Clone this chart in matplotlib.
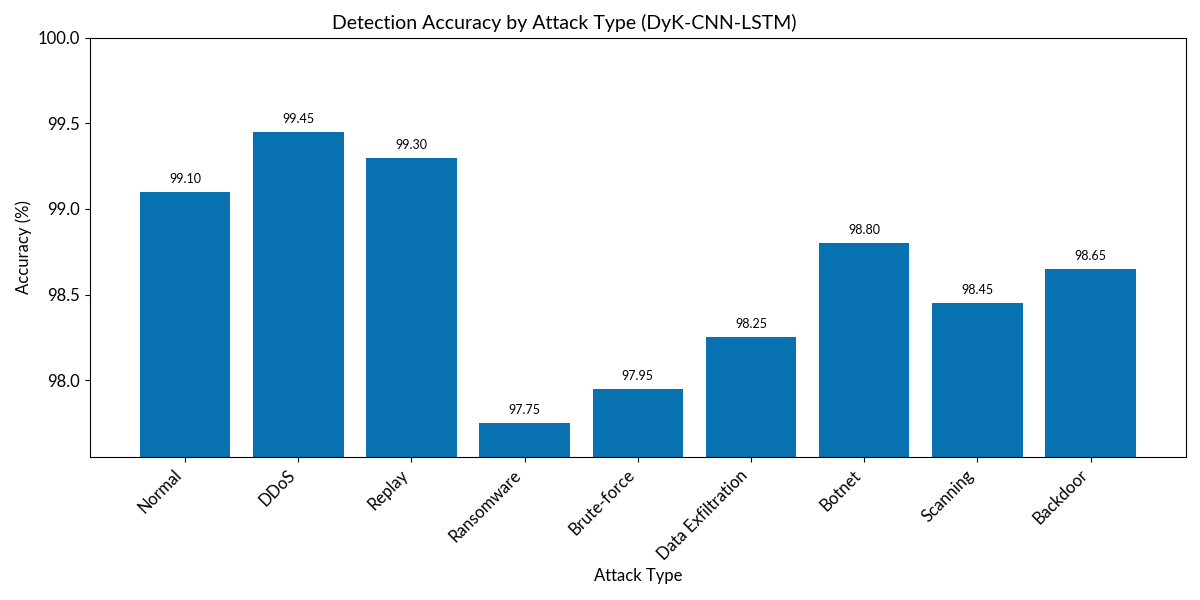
import matplotlib
matplotlib.use("Agg")
import matplotlib.pyplot as plt

plt.rcParams['font.family'] = ['Lato', 'DejaVu Sans']

attack_types = ['Normal', 'DDoS', 'Replay', 'Ransomware', 'Brute-force',
                'Data Exfiltration', 'Botnet', 'Scanning', 'Backdoor']
accuracy = [99.10, 99.45, 99.30, 97.75, 97.95, 98.25, 98.80, 98.45, 98.65]

fig, ax = plt.subplots(figsize=(12, 6), dpi=100)
bars = ax.bar(attack_types, accuracy, color='#0871b0', width=0.8)

# value labels above each bar
for b, v in zip(bars, accuracy):
    ax.annotate(f'{v:.2f}', (b.get_x() + b.get_width() / 2, v),
                xytext=(0, 5), textcoords='offset points',
                ha='center', va='bottom', fontsize=9)

ax.set_ylim(97.55, 100.0)
ax.set_yticks([98.0, 98.5, 99.0, 99.5, 100.0])
ax.tick_params(axis='both', labelsize=12)
plt.setp(ax.get_xticklabels(), rotation=45, ha='right')
ax.set_title('Detection Accuracy by Attack Type (DyK-CNN-LSTM)', fontsize=14, x=0.433)
ax.set_xlabel('Attack Type', fontsize=12)
ax.set_ylabel('Accuracy (%)', fontsize=12)

fig.subplots_adjust(left=0.075, right=0.988, top=0.937, bottom=0.238)
fig.savefig('out.png')
